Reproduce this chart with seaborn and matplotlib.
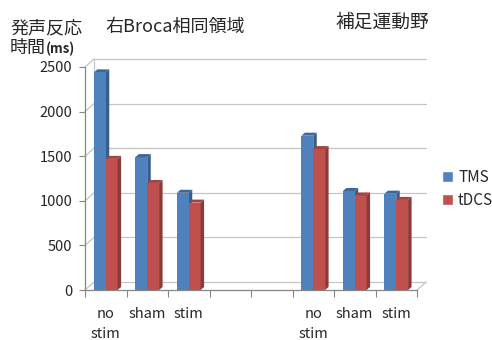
import numpy as np
import pandas as pd
import matplotlib
matplotlib.use("Agg")
import matplotlib.pyplot as plt
from matplotlib.patches import Polygon, Patch
import seaborn as sns

# values (ms)
regions = ["右Broca相同領域", "補足運動野"]
conditions = ["no\nstim", "sham", "stim"]
series = ["TMS", "tDCS"]
tms_broca = [2440, 1490, 1090]
tdcs_broca = [1470, 1200, 980]
tms_sma = [1730, 1110, 1080]
tdcs_sma = [1580, 1060, 1010]
yticks = [0, 500, 1000, 1500, 2000, 2500]

# 8 slots on the x axis: 3 conditions, 2 empty, 3 conditions
slot_keys = ["b0", "b1", "b2", "gap0", "gap1", "s0", "s1", "s2"]
slot_labels = conditions + ["", ""] + conditions

rows = []
for i in range(3):
    rows.append({"slot": slot_keys[i], "series": "TMS", "ms": tms_broca[i]})
    rows.append({"slot": slot_keys[i], "series": "tDCS", "ms": tdcs_broca[i]})
    rows.append({"slot": slot_keys[5 + i], "series": "TMS", "ms": tms_sma[i]})
    rows.append({"slot": slot_keys[5 + i], "series": "tDCS", "ms": tdcs_sma[i]})
df = pd.DataFrame(rows)

sns.set_style("white")
plt.rcParams['font.family'] = ['Noto Sans CJK JP', 'DejaVu Sans']

colors = {"TMS": "#4F81BD", "tDCS": "#C0504D"}
side_colors = {"TMS": "#385D8A", "tDCS": "#8C3A37"}
top_colors = {"TMS": "#3F6796", "tDCS": "#A4443F"}
grid_col = "#C4C4C4"
axis_col = "#868686"

fig = plt.figure(figsize=(4.92, 3.40), dpi=100)
ax = fig.add_axes([85 / 492, 1 - 290 / 340, 332 / 492, 223 / 340])

sns.barplot(data=df, x="slot", y="ms", hue="series", order=slot_keys,
            hue_order=series, palette=colors, width=0.57, errorbar=None,
            saturation=1, legend=False, ax=ax, zorder=3, linewidth=0)

ax.set_xlim(-0.5, len(slot_keys) - 0.5)
ax.set_ylim(0, 2500)

# pixel -> data offsets for the pseudo 3D look
inv = ax.transData.inverted()
o = inv.transform(ax.transData.transform((0, 0)))
def px_to_data(dx, dy):
    p = inv.transform(ax.transData.transform((0, 0)) + np.array([dx, dy]))
    return p[0] - o[0], p[1] - o[1]

bdx, bdy = px_to_data(3.5, 3)
wdx, wdy = px_to_data(9, 8)

# back wall gridlines + side wall
x0, x1 = -0.5, len(slot_keys) - 0.5
for y in yticks:
    ax.plot([x0 + wdx, x1 + wdx], [y + wdy, y + wdy], color=grid_col, lw=0.9,
            clip_on=False, zorder=0)
    ax.plot([x0, x0 + wdx], [y, y + wdy], color=grid_col, lw=0.9,
            clip_on=False, zorder=0)
ax.plot([x0 + wdx, x0 + wdx], [wdy, 2500 + wdy], color=grid_col, lw=0.9,
        clip_on=False, zorder=0)
ax.plot([x1, x1 + wdx], [0, wdy], color=grid_col, lw=0.9, clip_on=False, zorder=0)

# side and top faces of bars
bars = [p for p in ax.patches if p.get_height() > 0]
for p in bars:
    x, w, h = p.get_x(), p.get_width(), p.get_height()
    name = "TMS" if np.allclose(p.get_facecolor()[:3], matplotlib.colors.to_rgb(colors["TMS"])) else "tDCS"
    z = p.get_zorder() - 0.1 if name == "TMS" else p.get_zorder() + 0.1
    side = Polygon([(x + w, 0), (x + w + bdx, bdy), (x + w + bdx, h + bdy), (x + w, h)],
                   closed=True, facecolor=side_colors[name], edgecolor="none",
                   zorder=z, clip_on=False)
    top = Polygon([(x, h), (x + bdx, h + bdy), (x + w + bdx, h + bdy), (x + w, h)],
                  closed=True, facecolor=top_colors[name], edgecolor="none",
                  zorder=z, clip_on=False)
    ax.add_patch(side)
    ax.add_patch(top)

# axes styling
for s in ["top", "right"]:
    ax.spines[s].set_visible(False)
for s in ["left", "bottom"]:
    ax.spines[s].set_color(axis_col)
    ax.spines[s].set_linewidth(0.9)

ax.set_yticks(yticks)
ax.set_yticklabels([str(v) for v in yticks], fontsize=10.5)
ax.tick_params(axis="y", length=4, color=axis_col, pad=5, left=True)

ax.set_xticks(np.arange(len(slot_keys) + 1) - 0.5)
ax.set_xticklabels([])
ax.tick_params(axis="x", which="major", length=5, color=axis_col, bottom=True)
ax.set_xticks(np.arange(len(slot_keys)), minor=True)
ax.set_xticklabels(slot_labels, minor=True, fontsize=10.5, va="top",
                   linespacing=1.6)
ax.tick_params(axis="x", which="minor", length=0, pad=12)
ax.set_xlabel("")
ax.set_ylabel("")

# titles
fig.text(10 / 492, 1 - 28 / 340, "発声反応", fontsize=13, va="center", ha="left")
fig.text(10 / 492, 1 - 48 / 340, "時間", fontsize=13, va="center", ha="left")
fig.text(46 / 492, 1 - 49 / 340, "(ms)", fontsize=9.5, fontweight="bold",
         va="center", ha="left")
fig.text(105 / 492, 1 - 27 / 340, regions[0], fontsize=13, va="center", ha="left")
fig.text(335 / 492, 1 - 22 / 340, regions[1], fontsize=13.5, va="center", ha="left")

# legend
handles = [Patch(facecolor=colors[s], label=s) for s in series]
fig.legend(handles=handles, loc="center left",
           bbox_to_anchor=(442 / 492, 1 - 189 / 340), frameon=False,
           fontsize=11, handlelength=0.7, handleheight=0.7,
           handletextpad=0.35, labelspacing=0.4, borderpad=0,
           borderaxespad=0)

plt.savefig("out.png", dpi=100)
